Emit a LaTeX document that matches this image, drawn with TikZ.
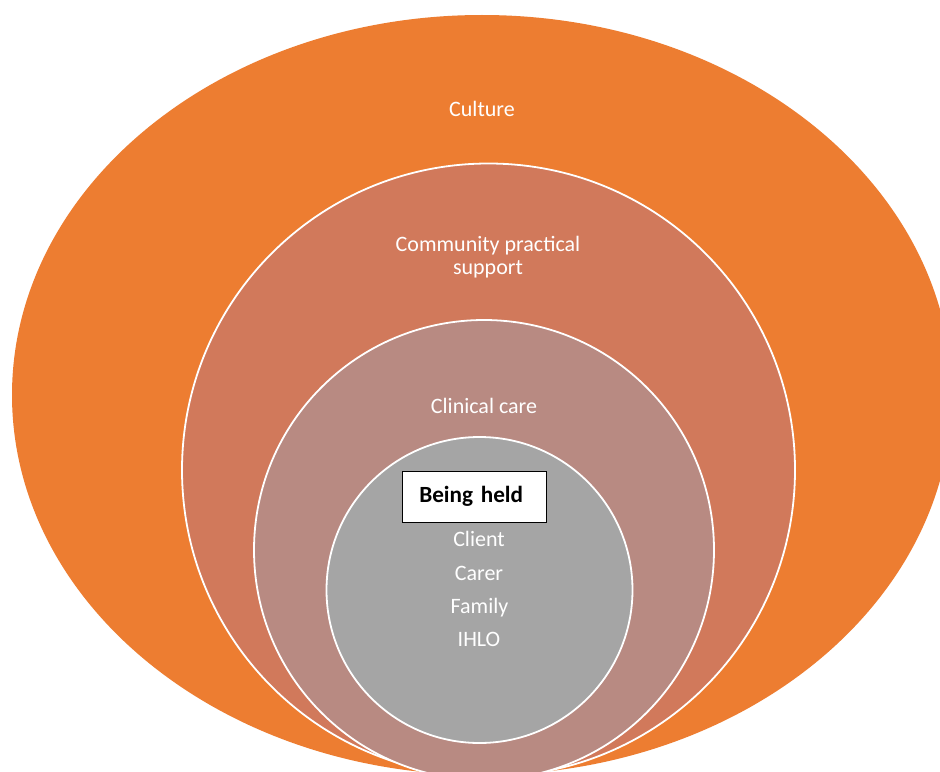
\documentclass[tikz,border=0pt]{standalone}
\usepackage{fontspec}
\setmainfont{Carlito}
\usetikzlibrary{positioning}
\definecolor{culture}{HTML}{ED7D31}
\definecolor{commun}{HTML}{D1795B}
\definecolor{clinic}{HTML}{B88A82}
\definecolor{core}{HTML}{A5A5A5}
\tikzset{
  every picture/.style={line width=0.5pt},
  ring/.style={draw=white,line width=1.8bp},
  lbl/.style={text=white,anchor=base,align=center,inner sep=0pt,font=\fontsize{22bp}{23.5bp}\selectfont},
  heldbox/.style={draw=black,fill=white,line width=0.9bp,anchor=west,align=left,
    text width=111bp,inner xsep=16.5bp,inner ysep=0pt,minimum height=51bp,
    font=\fontsize{23.2bp}{24bp}\selectfont\bfseries},
}

\begin{document}
\begin{tikzpicture}[x=1bp,y=-1bp]
  \useasboundingbox (0,0) rectangle (940,772);
  \fill[white] (0,0) rectangle (940,772);
  \clip (0,0) rectangle (940,772);
  % nested layers
  \fill[culture] (482,395) ellipse [x radius=470,y radius=380];
  \draw[ring,fill=commun] (488.5,470) circle [radius=306.5];
  \draw[ring,fill=clinic] (484,550) circle [radius=230];
  \draw[ring,fill=core] (479.5,590) circle [radius=153];
  % layer names (base of a two-line node is its last line)
  \node[lbl] (cult) at (482,116.7) {Culture};
  \node[lbl] (comm) at (488,274.5) {Community practical\\support};
  \node[lbl] (clin) at (484,413) {Clinical care};
  % centre
  \node[heldbox] (held) at (402.3,496.5) {Being held};
  \node[lbl] (client) at (479,546) {Client};
  \node[lbl] (carer)  at (479,580) {Carer};
  \node[lbl] (family) at (479.5,613) {Family};
  \node[lbl] (ihlo)   at (479,646.7) {IHLO};
\end{tikzpicture}
\end{document}
